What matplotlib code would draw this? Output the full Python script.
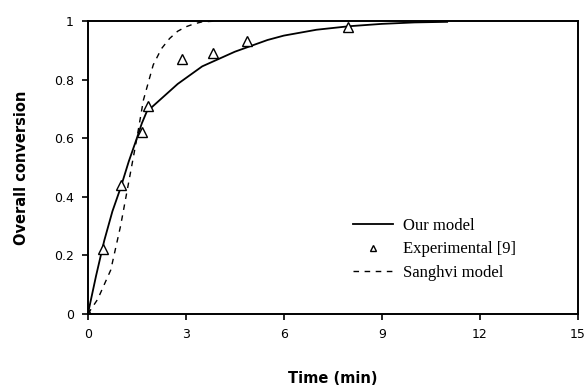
import numpy as np
import matplotlib
matplotlib.use("Agg")
import matplotlib.pyplot as plt

# Our model (solid)
model_t = [0, 0.25, 0.5, 0.75, 1.0, 1.25, 1.5, 1.65, 1.8, 1.9, 2.0, 2.25, 2.5, 2.75, 3.0, 3.25, 3.5,
           4.0, 4.5, 5.0, 5.5, 6.0, 7.0, 8.0, 9.0, 10.0, 11.0]
model_x = [0, 0.13, 0.25, 0.35, 0.43, 0.52, 0.60, 0.65, 0.69, 0.70, 0.71, 0.735, 0.76, 0.785, 0.805,
           0.825, 0.845, 0.87, 0.895, 0.915, 0.935, 0.95, 0.97, 0.982, 0.99, 0.995, 0.997]

# Experimental data [9]
exp_t = [0, 0.45, 1.0, 1.65, 1.85, 2.87, 3.83, 4.86, 7.95]
exp_x = [0, 0.22, 0.44, 0.62, 0.71, 0.87, 0.89, 0.93, 0.98]

# Sanghvi model (dashed)
sang_t = [0, 0.3, 0.7, 1.0, 1.2, 1.5, 1.7, 2.0, 2.25, 2.5, 2.75, 3.0, 3.25, 3.5, 4.0]
sang_x = [0, 0.05, 0.15, 0.30, 0.42, 0.60, 0.73, 0.85, 0.905, 0.94, 0.965, 0.98, 0.99, 0.997, 1.0]

fig = plt.figure(figsize=(5.86, 3.88), dpi=100)
ax = fig.add_axes([0.150, 0.191, 0.836, 0.755])

ax.plot(model_t, model_x, color='black', lw=1.3, label='Our model')
ax.plot(exp_t, exp_x, ls='none', marker='^', mfc='white', mec='black', ms=7, mew=1.0,
        label='Experimental [9]')
ax.plot(sang_t, sang_x, color='black', lw=1.0, ls=(0, (4, 4)), label='Sanghvi model')

ax.set_xlim(0, 15)
ax.set_ylim(0, 1)
ax.set_xticks([0, 3, 6, 9, 12, 15])
ax.set_yticks([0, 0.2, 0.4, 0.6, 0.8, 1])
ax.set_yticklabels(['0', '0.2', '0.4', '0.6', '0.8', '1'])
ax.tick_params(direction='out', length=4, width=1.2, labelsize=9, pad=6)
for s in ax.spines.values():
    s.set_linewidth(1.4)

ax.set_xlabel('Time (min)', fontsize=10.5, fontweight='bold', labelpad=22)
ax.set_ylabel('Overall conversion', fontsize=10.5, fontweight='bold', labelpad=18)

leg = ax.legend(loc='center left', bbox_to_anchor=(0.51, 0.22), frameon=False,
                prop={'family': 'Liberation Serif', 'size': 12},
                handlelength=2.4, labelspacing=0.45, handletextpad=0.6, markerscale=0.6)

fig.savefig('out.png', dpi=100)
